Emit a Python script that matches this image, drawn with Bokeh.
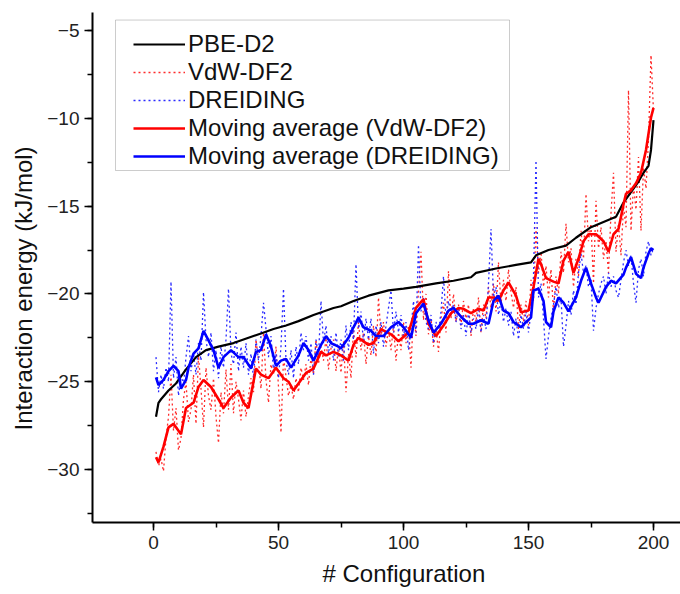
import math
from bokeh.plotting import figure
from bokeh.models import Range1d, SingleIntervalTicker, Legend, LegendItem, Title, BoxAnnotation
from bokeh.embed import file_html
from bokeh.resources import INLINE

# ---------------- data ----------------
config = list(range(1, 201))

vdw_df2 = [
    -29.0, -29.8, -29.4, -30.1, -28.2, -27.0, -24.6, -27.8, -26.5, -28.9,
    -28.2, -26.0, -25.0, -27.3, -26.6, -24.6, -27.4, -23.5, -25.4, -27.6,
    -24.2, -25.8, -26.6, -24.8, -27.0, -28.5, -25.6, -26.8, -24.3, -26.6,
    -24.0, -26.8, -25.0, -26.0, -27.2, -25.5, -27.0, -25.8, -24.8, -25.6,
    -22.6, -23.8, -25.4, -22.2, -24.9, -26.2, -24.0, -24.6, -23.0, -25.3,
    -27.9, -23.6, -24.7, -25.8, -25.2, -26.0, -24.8, -25.6, -24.2, -24.9,
    -24.0, -25.2, -23.6, -24.6, -22.6, -24.0, -23.0, -23.8, -22.5, -24.3,
    -23.1, -22.6, -24.4, -23.0, -24.5, -22.7, -25.6, -23.4, -24.8, -22.0,
    -23.6, -21.6, -23.2, -22.2, -24.0, -22.4, -23.5, -21.8, -23.6, -20.2,
    -22.4, -21.6, -23.0, -22.0, -23.2, -21.8, -23.8, -22.2, -23.2, -21.6,
    -22.8, -21.8, -24.2, -21.0, -22.4, -19.8, -17.6, -21.5, -20.0, -22.3,
    -21.4, -23.0, -22.0, -23.3, -21.4, -20.5, -22.2, -18.7, -21.4, -20.0,
    -21.6, -20.6, -21.8, -20.4, -21.4, -20.6, -22.4, -20.8, -21.6, -20.2,
    -22.2, -20.6, -21.4, -19.6, -20.8, -19.4, -21.0, -18.2, -20.6, -19.2,
    -20.4, -18.6, -19.9, -20.8, -19.6, -22.0, -20.6, -21.6, -20.4, -21.8,
    -19.2, -20.4, -16.2, -18.8, -17.6, -19.6, -18.4, -20.2, -18.6, -21.0,
    -19.0, -20.0, -17.6, -18.8, -16.0, -18.2, -17.4, -19.6, -18.0, -19.0,
    -16.4, -18.0, -14.3, -17.0, -16.0, -19.4, -14.7, -17.4, -16.2, -18.0,
    -17.0, -18.8, -15.4, -13.1, -17.6, -16.0, -17.8, -15.0, -16.2, -8.4,
    -16.4, -13.8, -15.2, -12.2, -16.4, -12.8, -14.0, -11.2, -6.4, -9.6,
]

dreiding = [
    -23.6, -25.6, -24.6, -25.4, -24.2, -25.0, -19.3, -24.8, -23.6, -25.8,
    -24.6, -25.2, -23.6, -22.4, -24.4, -23.4, -24.6, -22.8, -23.8, -19.9,
    -22.6, -23.6, -22.2, -24.4, -23.2, -24.8, -23.0, -24.2, -22.6, -19.7,
    -23.4, -24.0, -22.2, -24.4, -23.0, -24.2, -22.8, -24.6, -23.4, -24.8,
    -22.6, -23.8, -22.4, -20.5, -22.0, -23.6, -22.4, -24.4, -23.4, -24.8,
    -23.0, -19.7, -23.8, -24.6, -23.2, -24.8, -23.0, -24.0, -22.2, -23.2,
    -22.4, -23.8, -22.8, -24.6, -22.6, -23.6, -20.4, -22.8, -21.8, -23.4,
    -22.4, -23.8, -22.2, -23.6, -22.6, -23.8, -21.8, -23.2, -21.6, -22.6,
    -18.3, -22.0, -21.0, -22.8, -21.4, -22.6, -21.4, -23.4, -21.8, -22.8,
    -21.6, -23.0, -21.8, -20.8, -19.8, -22.2, -21.0, -22.2, -21.2, -22.4,
    -21.6, -23.2, -22.0, -20.4, -22.2, -17.2, -21.0, -20.2, -21.6, -22.0,
    -21.2, -22.8, -21.6, -22.2, -21.0, -19.0, -21.4, -20.4, -21.2, -20.6,
    -21.6, -20.8, -22.0, -21.2, -22.4, -21.0, -22.2, -21.4, -22.0, -20.8,
    -22.2, -21.2, -22.0, -19.4, -16.3, -20.2, -19.6, -21.2, -20.4, -21.6,
    -20.8, -21.8, -21.0, -22.4, -21.4, -22.6, -21.2, -22.0, -21.0, -22.2,
    -21.0, -19.0, -12.4, -20.2, -19.4, -21.4, -23.7, -22.4, -21.4, -20.6,
    -19.6, -20.8, -20.2, -23.0, -21.8, -20.4, -21.2, -19.8, -20.6, -18.8,
    -17.7, -18.8, -18.4, -19.6, -19.2, -22.1, -20.8, -20.0, -19.4, -19.0,
    -20.0, -18.8, -19.6, -19.0, -19.8, -20.2, -19.2, -18.2, -17.5, -18.4,
    -17.8, -19.4, -20.5, -18.6, -18.0, -19.0, -17.6, -17.0, -17.8, -17.4,
]

pbe_x = [1, 2, 3, 6, 9, 13, 17, 21, 26, 32, 38, 43, 48, 53, 58, 64, 68, 72, 75, 80,
         86, 94, 100, 105, 113, 120, 127, 129, 137, 145, 151, 153, 158, 165, 169,
         175, 180, 185, 188, 191, 194, 196, 198, 199, 200]
pbe_d2 = [-27.0, -26.2, -26.0, -25.5, -25.1, -24.3, -23.6, -23.2, -23.0, -22.8,
          -22.5, -22.25, -22.0, -21.8, -21.55, -21.2, -21.0, -20.8, -20.7, -20.4,
          -20.1, -19.8, -19.7, -19.6, -19.4, -19.25, -19.05, -18.8, -18.55, -18.35,
          -18.2, -17.8, -17.5, -17.25, -16.8, -16.2, -15.9, -15.6, -14.8, -14.2,
          -13.6, -13.1, -12.7, -11.8, -10.1]

ma_vdw_x = [1, 2, 4, 6, 8, 11, 13, 16, 18, 20, 23, 26, 28, 31, 34, 36, 38, 41, 43, 46,
            49, 52, 54, 56, 59, 61, 64, 67, 69, 72, 75, 78, 80, 82, 86, 88, 91, 95, 98, 102,
            105, 108, 110, 113, 116, 119, 122, 124, 127, 130, 132, 134, 136, 138, 140,
            142, 145, 147, 150, 152, 154, 155, 157, 160, 162, 164, 166, 168, 170, 172,
            174, 177, 180, 182, 184, 186, 188, 189, 191, 193, 195, 197, 199, 200]
ma_vdw = [-29.3, -29.6, -28.7, -27.6, -27.4, -28.0, -26.5, -26.2, -25.3, -24.9,
          -25.3, -26.0, -26.5, -25.9, -25.5, -26.2, -26.5, -24.25, -24.6, -24.8,
          -24.2, -24.8, -25.0, -25.5, -24.9, -24.5, -24.25, -23.3, -23.5, -23.3,
          -23.5, -23.8, -22.9, -22.5, -22.9, -22.8, -22.0, -22.3, -22.7, -22.2,
          -20.8, -20.3, -21.7, -22.4, -21.8, -21.1, -20.8, -20.85, -21.1, -20.85,
          -20.95, -20.2, -20.2, -20.4, -19.8, -19.35, -20.1, -21.05, -20.95, -19.6,
          -18.0, -18.3, -19.1, -19.3, -19.4, -18.1, -17.6, -18.8, -18.0, -17.0,
          -16.6, -16.6, -17.0, -17.6, -16.6, -16.3, -14.9, -14.3, -14.1, -13.7,
          -13.1, -11.8, -9.95, -9.4]

ma_dre_x = [1, 2, 4, 6, 8, 10, 11, 13, 14, 16, 18, 20, 22, 24, 26, 28, 31, 34, 36, 39,
            41, 43, 45, 47, 49, 51, 53, 55, 58, 60, 62, 64, 67, 69, 71, 74, 75, 78, 80, 82,
            84, 87, 89, 92, 95, 98, 100, 103, 105, 108, 110, 112, 115, 118, 120, 123,
            126, 128, 131, 134, 136, 138, 140, 142, 144, 147, 149, 151, 152, 154, 156,
            157, 159, 160, 162, 164, 166, 169, 171, 173, 175, 177, 178, 181, 183, 185,
            188, 189, 191, 193, 195, 196, 198, 199, 200]
ma_dre = [-24.75, -25.2, -24.9, -24.4, -24.1, -24.4, -25.4, -24.9, -24.2, -23.4,
          -23.1, -22.1, -22.65, -23.2, -24.2, -23.6, -23.2, -23.6, -23.6, -24.25,
          -23.3, -23.2, -22.3, -23.0, -24.1, -23.8, -23.7, -24.2, -23.5, -22.8,
          -23.2, -23.8, -22.9, -22.4, -22.8, -23.0, -23.1, -22.5, -21.9, -21.35,
          -21.9, -22.1, -22.4, -22.4, -21.9, -21.6, -21.9, -22.5, -21.1, -20.55,
          -21.5, -22.2, -21.7, -20.95, -20.8, -21.3, -21.7, -21.7, -21.5, -21.7,
          -20.4, -20.1, -20.95, -21.1, -21.6, -21.9, -21.6, -21.35, -19.8, -19.7,
          -20.4, -21.6, -21.9, -21.0, -20.2, -20.5, -21.0, -20.2, -19.25, -18.5,
          -19.4, -20.2, -20.5, -19.6, -19.25, -19.4, -18.9, -18.5, -17.9, -18.85,
          -19.1, -18.5, -17.7, -17.4, -17.5]

labels = ["PBE-D2", "VdW-DF2", "DREIDING", "Moving average (VdW-DF2)", "Moving average (DREIDING)"]
x_title = "# Configuration"
y_title = "Interaction energy (kJ/mol)"

FONT = "Liberation Sans"

# ---------------- figure ----------------
p = figure(width=680, height=594, output_backend="svg", toolbar_location=None,
           x_range=Range1d(-24.4, 210.8), y_range=Range1d(-33.02, -3.97),
           min_border_left=92, min_border_right=0, min_border_top=12, min_border_bottom=72)
p.outline_line_color = None
p.grid.visible = False
p.background_fill_color = "white"
p.border_fill_color = "white"

p.xaxis.ticker = SingleIntervalTicker(interval=50, num_minor_ticks=2)
p.yaxis.ticker = SingleIntervalTicker(interval=5, num_minor_ticks=2)
for ax in (p.xaxis, p.yaxis):
    ax.axis_line_width = 2
    ax.axis_line_color = "black"
    ax.major_tick_line_width = 1.5
    ax.minor_tick_line_width = 1.5
    ax.major_tick_out = 8
    ax.major_tick_in = 0
    ax.minor_tick_out = 5
    ax.minor_tick_in = 0
    ax.major_label_text_font = FONT
    ax.major_label_text_font_size = "19px"
    ax.major_label_text_color = "#222222"
p.xaxis.major_label_standoff = 5
p.yaxis.major_label_standoff = 5

r_vdw = p.line(config, vdw_df2, line_color="#ff2a2a", line_width=1.3, line_dash="2 3")
r_dre = p.line(config, dreiding, line_color="#2a2aff", line_width=1.3, line_dash="2 3")
r_pbe = p.line(pbe_x, pbe_d2, line_color="black", line_width=2.2)
r_mav = p.line(ma_vdw_x, ma_vdw, line_color="#ff0000", line_width=2.6)
r_mad = p.line(ma_dre_x, ma_dre, line_color="#0000ff", line_width=2.6)

# legend frame (drawn separately so the inner padding can differ per side)
p.add_layout(BoxAnnotation(left=-15.2, right=142.4, top=-4.40, bottom=-12.97,
                           fill_color="white", fill_alpha=1.0,
                           line_color="#555555", line_width=1))

legend = Legend(items=[LegendItem(label=labels[0], renderers=[r_pbe]),
                       LegendItem(label=labels[1], renderers=[r_vdw]),
                       LegendItem(label=labels[2], renderers=[r_dre]),
                       LegendItem(label=labels[3], renderers=[r_mav]),
                       LegendItem(label=labels[4], renderers=[r_mad])],
                location=(41, 352))
legend.label_text_font = FONT
legend.label_text_font_size = "24px"
legend.label_text_color = "#111111"
legend.glyph_width = 52
legend.glyph_height = 28
legend.label_height = 28
legend.label_standoff = 3
legend.spacing = 0
legend.padding = 0
legend.margin = 0
legend.border_line_color = None
legend.background_fill_alpha = 0.0
p.add_layout(legend)

p.add_layout(Title(text=x_title, align="left", offset=230, text_font=FONT,
                   text_font_size="24px", text_font_style="normal",
                   text_color="#111111", standoff=12), "below")
p.add_layout(Title(text=y_title, align="left", offset=92, text_font=FONT,
                   text_font_size="24px", text_font_style="normal",
                   text_color="#111111", standoff=15), "left")

open("out.html", "w").write(file_html(p, INLINE))
